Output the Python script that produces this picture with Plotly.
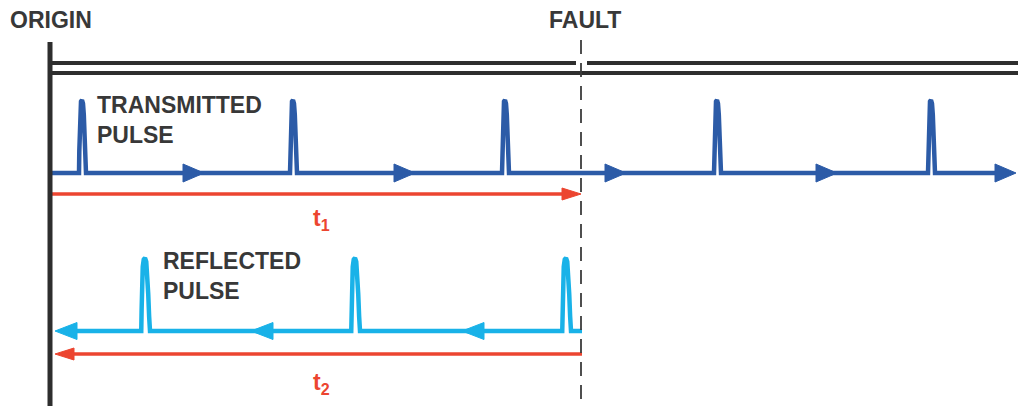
import plotly.graph_objects as go

# ---- diagram data (horizontal positions along the cable, vertical lane levels) ----
origin_x = 50
fault_x = 581
cable_end_x = 1018
cable_y = [63, 73]                     # double line representing the cable
fault_gap = [576, 587]                 # notch in the upper cable line

tx_base_y = 173                        # transmitted pulse train baseline
tx_peak_y = 100
tx_pulse_x = [82, 293, 505, 717, 931]  # transmitted pulse peaks
tx_arrow_tip_x = [204, 415, 626, 837, 1016]

t1_y = 194
t1_label = "t<sub>1</sub>"

rx_base_y = 331                        # reflected pulse train baseline
rx_peak_y = 258
rx_pulse_x = [145, 355, 566]
rx_arrow_tip_x = [55, 251, 462]

t2_y = 354
t2_label = "t<sub>2</sub>"

labels = {
    "origin": "ORIGIN",
    "fault": "FAULT",
    "tx": "TRANSMITTED<br>PULSE",
    "rx": "REFLECTED<br>PULSE",
}

# ---- styles ----
DARK = "#2e2e2e"
TEXT = "#383838"
BLUE = "#2c5ba7"
CYAN = "#19b2e8"
RED = "#ec4530"
FONT = "Liberation Sans, Arial, sans-serif"

# pulse profile (offset from peak, fraction of height)
prof_dx = [-3.0, -2.7, -2.3, -1.8, -1.0, 0.0, 1.0, 1.8, 2.6, 3.3, 4.0]
prof_h = [0.0, 0.3, 0.65, 0.88, 0.98, 1.0, 0.95, 0.8, 0.5, 0.2, 0.0]

fig = go.Figure()


def line(xs, ys, color, width, dash=None):
    fig.add_trace(go.Scatter(x=xs, y=ys, mode="lines", hoverinfo="skip",
                             line=dict(color=color, width=width, dash=dash)))


def pulse_train(x_start, x_end, base, peak, peaks, color, widen=1.0):
    xs = [x_start]
    ys = [base]
    for p in sorted(peaks):
        for dx, h in zip(prof_dx, prof_h):
            xs.append(p + dx * widen)
            ys.append(base - h * (base - peak))
    xs.append(x_end)
    ys.append(base)
    fig.add_trace(go.Scatter(x=xs, y=ys, mode="lines", hoverinfo="skip",
                             line=dict(color=color, width=4.5)))


def heads(tips, y, direction, length, half, color):
    xs, ys = [], []
    for t in tips:
        b = t - direction * length
        xs += [t, b, b, t, None]
        ys += [y, y - half, y + half, y, None]
    fig.add_trace(go.Scatter(x=xs, y=ys, mode="lines", fill="toself", fillcolor=color,
                             hoverinfo="skip", line=dict(color=color, width=1)))


# cable double line with notch at the fault
line([origin_x + 2, fault_gap[0], None, fault_gap[1], cable_end_x],
     [cable_y[0], cable_y[0], None, cable_y[0], cable_y[0]], DARK, 4)
line([origin_x + 2, cable_end_x], [cable_y[1], cable_y[1]], DARK, 4)

# transmitted pulses
pulse_train(origin_x + 2, tx_arrow_tip_x[-1] - 10, tx_base_y, tx_peak_y, tx_pulse_x, BLUE)
heads(tx_arrow_tip_x, tx_base_y, 1, 21, 9, BLUE)

# t1 arrow
line([origin_x + 2, fault_x - 14], [t1_y, t1_y], RED, 3.5)
heads([fault_x], t1_y, 1, 19, 6, RED)

# reflected pulses
pulse_train(rx_arrow_tip_x[0] + 10, fault_x + 1, rx_base_y, rx_peak_y, rx_pulse_x, CYAN, widen=1.25)
heads(rx_arrow_tip_x, rx_base_y, -1, 22, 8.5, CYAN)

# t2 arrow
line([rx_arrow_tip_x[0] + 14, fault_x + 1], [t2_y, t2_y], RED, 3.5)
heads([rx_arrow_tip_x[0]], t2_y, -1, 19, 6, RED)

# fault dashed line
line([fault_x, fault_x], [40, 406], "#3c3c3c", 1.8, dash="14px,9px")

# origin vertical line
line([origin_x, origin_x], [42, 406], DARK, 5)


# text
def text(x, y, s, color, size, anchor="left"):
    fig.add_annotation(x=x, y=y, text=s, showarrow=False, xanchor=anchor, yanchor="middle",
                       align="left", font=dict(family=FONT, size=size, color=color, weight="bold"))


text(8, 20, labels["origin"], TEXT, 23)
text(fault_x + 4, 20, labels["fault"], TEXT, 23, anchor="center")
text(95, 120, labels["tx"], TEXT, 23)
text(161, 276, labels["rx"], TEXT, 23)
text(321, 219, t1_label, RED, 23, anchor="center")
text(321, 383, t2_label, RED, 23, anchor="center")

fig.update_layout(
    width=1018, height=406, margin=dict(l=0, r=0, t=0, b=0),
    paper_bgcolor="white", plot_bgcolor="white", showlegend=False,
    xaxis=dict(range=[0, 1018], visible=False, fixedrange=True),
    yaxis=dict(range=[406, 0], visible=False, fixedrange=True),
)

fig.write_html("out.html", config={"displayModeBar": False},
               post_script="document.body.style.margin='0';document.body.style.padding='0';")
